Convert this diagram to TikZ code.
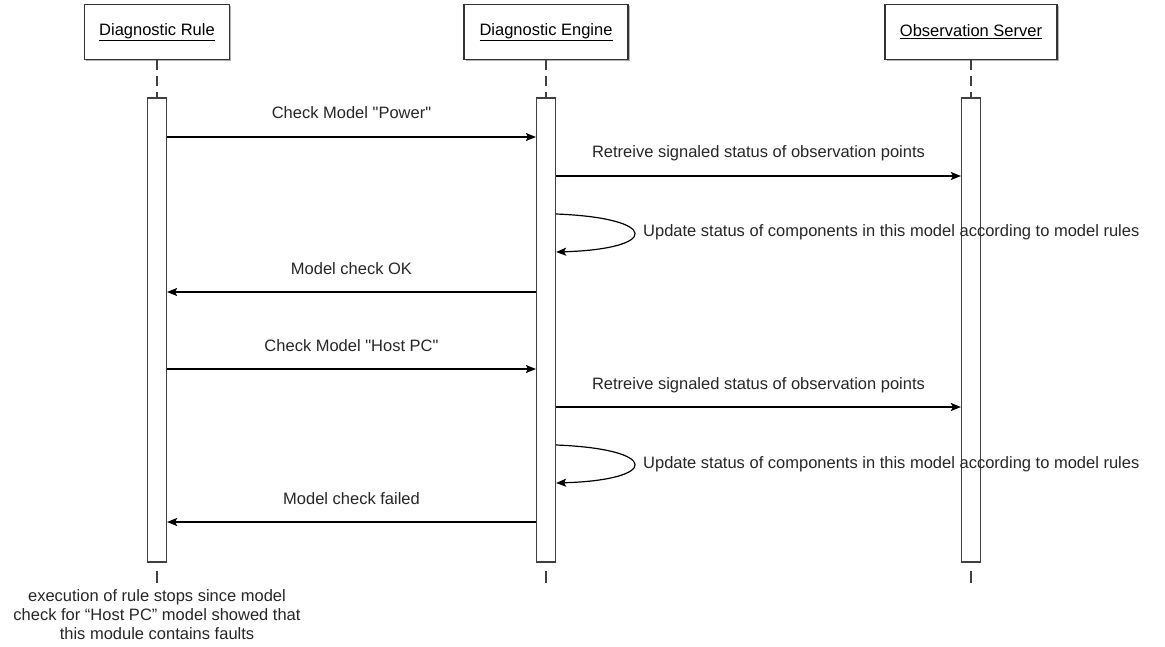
\documentclass[tikz,border=0pt]{standalone}
\usepackage{fontspec}
\setmainfont{Liberation Sans}
\usepackage{tikz}
\usetikzlibrary{arrows.meta}
\usetikzlibrary{shadows}
\usetikzlibrary{positioning}

\begin{document}
\begin{tikzpicture}[x=1pt, y=-1pt,
                    font=\fontsize{16.5pt}{19pt}\selectfont,
                    >={Stealth[length=10pt, width=8pt, inset=2pt]}]
	\useasboundingbox (0,0) rectangle (1165,647);

	% lifeline heads
	\begin{scope}[every node/.style={draw=black!80, line width=1.2pt, fill=white,
	              minimum height=55pt, inner sep=0pt,
	              drop shadow={shadow xshift=1.5pt, shadow yshift=-1.5pt, fill=black!60}}]
		\node[minimum width=145pt] (rule) at (157,32) {\underline{Diagnostic Rule}};
		\node[minimum width=164pt] (engine) at (546,32) {\underline{Diagnostic Engine}};
		\node[minimum width=172pt] (server) at (971,32) {\underline{Observation Server}};
	\end{scope}

	% activation bars
	\begin{scope}[every node/.style={draw=black!75, line width=1.2pt, fill=white,
	              minimum width=19pt, minimum height=464pt, inner sep=0pt}]
		\node (ruleBar) at (157,330) {};
		\node (engineBar) at (546,330) {};
		\node (serverBar) at (971,330) {};
	\end{scope}

	\coordinate (ruleEnd) at (157,583);
	\coordinate (engineEnd) at (546,583);
	\coordinate (serverEnd) at (971,583);

	% dashed lifelines
	\begin{scope}[every path/.style={draw=black!75, line width=1.2pt,
	              dash pattern=on 10pt off 6pt}]
		\path (rule.south) -- (ruleBar.north);
		\path (engine.south) -- (engineBar.north);
		\path (server.south) -- (serverBar.north);
	\end{scope}
	\begin{scope}[every path/.style={draw=black!75, line width=1.2pt,
	              dash pattern=on 13pt off 8pt, dash phase=13pt}]
		\path (ruleBar.south) -- (ruleEnd);
		\path (engineBar.south) -- (engineEnd);
		\path (serverBar.south) -- (serverEnd);
	\end{scope}

	% message levels
	\coordinate (m1) at (0,137);
	\coordinate (m2) at (0,176);
	\coordinate (u1) at (0,214);
	\coordinate (v1) at (0,252);
	\coordinate (m3) at (0,292);
	\coordinate (m4) at (0,369);
	\coordinate (m5) at (0,407);
	\coordinate (u2) at (0,445);
	\coordinate (v2) at (0,483);
	\coordinate (m6) at (0,522);

	\begin{scope}[every edge/.style={draw=black, line width=1.2pt, ->},
	              every node/.style={anchor=base, yshift=18pt, inner sep=0pt, text=black!85}]
		\path (ruleBar.east |- m1) edge node{Check Model \textquotedbl Power\textquotedbl} (engineBar.west |- m1);
		\path (engineBar.east |- m2) edge node{Retreive signaled status of observation points} (serverBar.west |- m2);
		\path (engineBar.west |- m3) edge node{Model check OK} (ruleBar.east |- m3);
		\path (ruleBar.east |- m4) edge node{Check Model \textquotedbl Host PC\textquotedbl} (engineBar.west |- m4);
		\path (engineBar.east |- m5) edge node{Retreive signaled status of observation points} (serverBar.west |- m5);
		\path (engineBar.west |- m6) edge node{Model check failed} (ruleBar.east |- m6);
	\end{scope}

	% self messages
	\begin{scope}[every path/.style={draw=black, line width=1.2pt}]
		\path[->] (engineBar.east |- u1) .. controls +(104,4) and +(104,-3) .. (engineBar.east |- v1);
		\path[->] (engineBar.east |- u2) .. controls +(104,4) and +(104,-3) .. (engineBar.east |- v2);
	\end{scope}
	\begin{scope}[every node/.style={anchor=west, inner sep=0pt, text=black!85}]
		\node (update1) at (643,232) {Update status of components in this model according to model rules};
		\node (update2) at (643,464) {Update status of components in this model according to model rules};
	\end{scope}

	% note under the rule lifeline
	\node[align=center, inner sep=0pt, text=black!85] (ruleNote) at (157,615)
		{execution of rule stops since model\\check for “Host PC” model showed that\\this module contains faults};
\end{tikzpicture}
\end{document}
